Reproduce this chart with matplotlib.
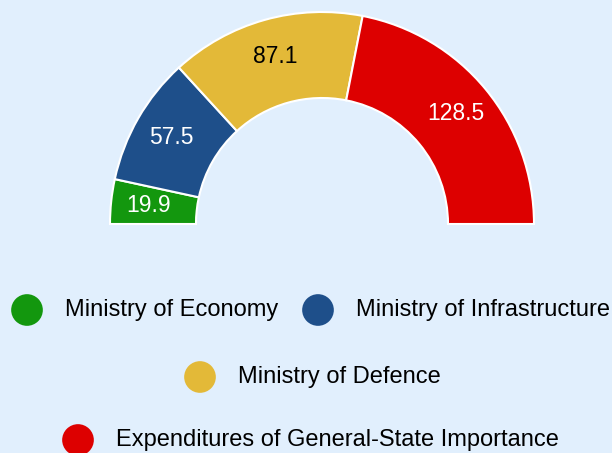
import numpy as np
import matplotlib.pyplot as plt

plt.rcParams['font.family'] = ['Liberation Sans', 'DejaVu Sans']

labels = ["Ministry of Economy", "Ministry of Infrastructure",
          "Ministry of Defence", "Expenditures of General-State Importance"]
values = [19.9, 57.5, 87.1, 128.5]
colors = ["#13970e", "#1e4f8a", "#e3b938", "#dd0000"]
text_colors = ["white", "white", "black", "white"]

bg = "#e1effd"
fig = plt.figure(figsize=(6.12, 4.53), dpi=100, facecolor=bg)
ax = fig.add_axes([0, 0, 1, 1])
ax.set_facecolor(bg)

# half donut: add an invisible slice equal to the total
total = sum(values)
wedges, _ = ax.pie(values + [total], colors=colors + ["none"],
                   startangle=180, counterclock=False,
                   center=(322, 229), radius=212,
                   wedgeprops=dict(width=86, edgecolor="white", linewidth=1.5))
wedges[-1].set_edgecolor("none")

for w, v, tc in zip(wedges[:-1], values, text_colors):
    ang = np.deg2rad((w.theta1 + w.theta2) / 2)
    r = 174
    ax.text(322 + r * np.cos(ang), 229 + r * np.sin(ang), f"{v:.1f}",
            ha="center", va="center", fontsize=16.5, color=tc)

# legend laid out as in the picture (image coords -> y flipped)
leg_pos = [(27, 310), (318, 310), (200, 377), (78, 440)]
for (x, y), lab, c in zip(leg_pos, labels, colors):
    ax.scatter([x], [453 - y], s=520, color=c, edgecolors="none")
    ax.text(x + 38, 453 - y, lab, ha="left", va="center", fontsize=17, color="black")

ax.set_xlim(0, 612)
ax.set_ylim(0, 453)
ax.set_aspect("equal")
ax.axis("off")

fig.savefig("out.png", dpi=100, facecolor=bg)
